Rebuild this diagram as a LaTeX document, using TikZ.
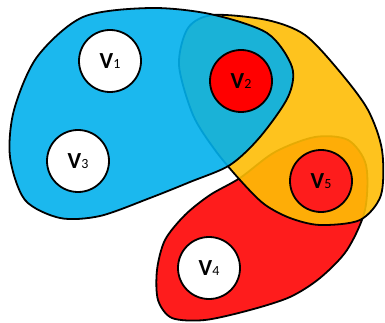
\documentclass[tikz,border=0pt]{standalone}
\usepackage{fontspec}
\setmainfont{Carlito}
\definecolor{edgeblue}{RGB}{2,176,236}
\definecolor{edgeyellow}{RGB}{254,189,5}
\definecolor{edgered}{RGB}{254,28,28}
\newcommand{\vlabel}[1]{\raisebox{-3pt}{\fontsize{23}{23}\selectfont\bfseries V{\fontsize{14}{14}\selectfont\mdseries #1}}}
\tikzset{
  vertex/.style={circle, draw, line width=1.8pt, minimum size=62pt, inner sep=0pt, fill=white},
  hyperedge/.style={draw, line width=1.8pt, line join=round},
}
\begin{document}
\begin{tikzpicture}[x=1pt, y=-1pt]
  \useasboundingbox (0,0) rectangle (385,323);
  % edge v4 v5
  \draw[hyperedge, fill=edgered] plot[smooth cycle] coordinates {
    (240,178) (275,152) (315,137) (348,140) (366,165) (365,210) (347,250)
    (320,278) (290,297) (250,310) (205,320) (172,318) (158,300) (157,270)
    (165,240) (185,215) (210,195)};
  % edge v2 v5
  \draw[hyperedge, fill=edgeyellow, fill opacity=0.9] plot[smooth cycle] coordinates {
    (213,15) (267,20) (305,35) (340,72) (368,110) (382,150) (381,195)
    (360,220) (320,225) (290,218) (264,204) (240,180) (215,150) (193,115)
    (179,65) (188,28)};
  % edge v1 v2 v3
  \draw[hyperedge, fill=edgeblue, fill opacity=0.9] plot[smooth cycle] coordinates {
    (150,8) (210,14) (267,33) (292,67) (288,97) (260,137) (230,165)
    (190,182) (150,198) (100,216) (60,218) (25,200) (10,157) (14,110)
    (37,57) (83,17)};
  % vertices
  \node[vertex] (v1) at (110,61) {\vlabel{1}};
  \node[vertex, fill=red] (v2) at (241,81) {\vlabel{2}};
  \node[vertex] (v3) at (78,161) {\vlabel{3}};
  \node[vertex] (v4) at (209,268) {\vlabel{4}};
  \node[vertex, fill=edgered] (v5) at (321,181) {\vlabel{5}};
\end{tikzpicture}
\end{document}
